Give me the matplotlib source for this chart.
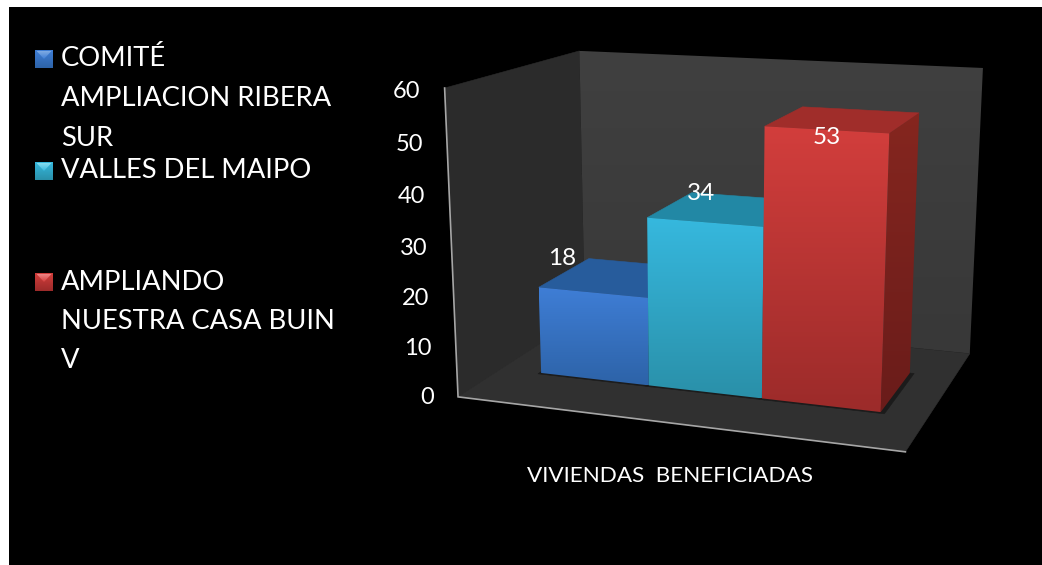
import matplotlib
matplotlib.use('Agg')
import matplotlib.pyplot as plt
import numpy as np
from matplotlib.colors import to_rgb
from matplotlib.patches import Polygon, Rectangle

plt.rcParams['font.family'] = ['Lato', 'DejaVu Sans']

# datos del grafico
categoria = 'VIVIENDAS  BENEFICIADAS'
series = ['COMITÉ\nAMPLIACION RIBERA\nSUR', 'VALLES DEL MAIPO', 'AMPLIANDO\nNUESTRA CASA BUIN\nV']
valores = [18, 34, 53]
ticks_y = [0, 10, 20, 30, 40, 50, 60]
y_max = 60

# colores: frente arriba, frente abajo, tapa, lado arriba, lado abajo, brillo leyenda
colores = [('#3F7ED6', '#2D63A8', '#275C9C', '#1F4A80', '#1F4A80', '#7FABE3'),
           ('#36B8DE', '#2A90A9', '#2288A5', '#1B6C84', '#1B6C84', '#86DDF0'),
           ('#D23E3C', '#9C2B2A', '#A02D2A', '#85261F', '#6A1C1A', '#EE8585')]

# esquinas de la caja 3D (x, profundidad, z) y donde caen en la imagen
cubo = np.array([[0, 0, 0], [1, 0, 0], [1, 1, 0], [0, 1, 0], [0, 0, 1], [1, 1, 1], [0, 1, 1]], float)
imagen = np.array([[458, 394], [905, 455], [970, 350], [585, 318], [445, 88], [983, 69], [579, 50]], float)


def calcular_camara(p3, p2):
    filas = []
    for (x, y, z), (u, v) in zip(p3, p2):
        filas.append([x, y, z, 1, 0, 0, 0, 0, -u*x, -u*y, -u*z, -u])
        filas.append([0, 0, 0, 0, x, y, z, 1, -v*x, -v*y, -v*z, -v])
    return np.linalg.svd(np.array(filas))[2][-1].reshape(3, 4)


camara = calcular_camara(cubo, imagen)


def proy(x, y, valor):
    p = camara @ np.array([x, y, valor / y_max, 1.0])
    return p[0] / p[2], p[1] / p[2]


fig = plt.figure(figsize=(10.42, 5.65), dpi=100, facecolor='white')
ax = fig.add_axes([9 / 1042, 0, 1033 / 1042, 558 / 565], facecolor='black')
ax.axis('off')
ax.add_patch(Rectangle((9, 7), 1033, 558, color='black', zorder=0))


def cara(puntos, color, z=2):
    ax.add_patch(Polygon(puntos, closed=True, facecolor=color, edgecolor=color, linewidth=0.4, zorder=z))


def cara_degradada(puntos, c1, c2, z=3):
    # degradado vertical recortado al poligono de la cara
    pts = np.array(puntos)
    grad = np.linspace(to_rgb(c1), to_rgb(c2), 64).reshape(64, 1, 3)
    img = ax.imshow(grad, extent=(pts[:, 0].min(), pts[:, 0].max(), pts[:, 1].max(), pts[:, 1].min()),
                    aspect='auto', interpolation='bilinear', zorder=z)
    forma = Polygon(pts, closed=True, transform=ax.transData, facecolor='none', edgecolor='none')
    ax.add_patch(forma)
    img.set_clip_path(forma)


# paredes y piso
cara([proy(0, 0, 0), proy(0, 1, 0), proy(0, 1, y_max), proy(0, 0, y_max)], '#2B2B2B', 1)
cara_degradada([proy(0, 1, y_max), proy(1, 1, y_max), proy(1, 1, 0), proy(0, 1, 0)], '#404040', '#383838', 1)
cara([proy(0, 0, 0), proy(1, 0, 0), proy(1, 1, 0), proy(0, 1, 0)], '#303030', 1.5)
ax.plot(*zip(proy(0, 0, y_max), proy(0, 0, 0), proy(1, 0, 0)), color='#A6A6A6', lw=1.2, zorder=2, solid_joinstyle='miter')

# barras
x_ini, ancho = 0.1, 0.266
y0, y1 = 0.31, 0.72
for i, val in enumerate(valores):
    xa, xb = x_ini + ancho * i, x_ini + ancho * (i + 1)
    front, abajo, tapa, lado, lado2, brillo = colores[i]
    # sombra en el piso
    cara([proy(xa - 0.004, y0 - 0.012, 0), proy(xb + 0.01, y0 - 0.012, 0), proy(xb + 0.01, y1, 0), proy(xa - 0.004, y1, 0)], '#1B1B1B', 1.8)
    cara([proy(xa, y0, val), proy(xb, y0, val), proy(xb, y1, val), proy(xa, y1, val)], tapa, 2 + i * 0.1)
    cara_degradada([proy(xb, y0, val), proy(xb, y1, val), proy(xb, y1, 0), proy(xb, y0, 0)], lado, lado2, 2 + i * 0.1)
    cara_degradada([proy(xa, y0, val), proy(xb, y0, val), proy(xb, y0, 0), proy(xa, y0, 0)], front, abajo, 3 + i * 0.1)

# ticks del eje
for t in ticks_y:
    px, py = proy(0, 0, t)
    ax.text(px - 24, py + 0.5 + 2.5 * t / y_max, str(t), color='white', fontsize=17, ha='right', va='center', zorder=6)

# etiquetas de datos
desp = [(-31, -34), (-4, -29), (1, 8)]
for i, val in enumerate(valores):
    px, py = proy(x_ini + ancho * (i + 0.5), y0, val)
    ax.text(px + desp[i][0], py + desp[i][1], str(val), color='white', fontsize=17.5, ha='center', va='center', zorder=6)

ax.text(670, 476, categoria, color='white', fontsize=16.2, ha='center', va='center', zorder=6)

# leyenda
pos_leyenda = [59, 171, 282]
for i, nombre in enumerate(series):
    yc = pos_leyenda[i]
    front, abajo, tapa, lado, lado2, brillo = colores[i]
    for j, linea in enumerate(nombre.split('\n')):
        ax.text(61, yc + j * 39.5, linea, color='white', fontsize=19.7, ha='left', va='center', zorder=6)
    ym = yc
    cara_degradada([(35, ym - 9), (53, ym - 9), (53, ym + 9), (35, ym + 9)], front, abajo, 5)
    cara_degradada([(36.5, ym - 8), (51.5, ym - 8), (44, ym)], brillo, front, 5.5)

ax.set_xlim(9, 1042)
ax.set_ylim(565, 7)
fig.savefig('out.png', dpi=100, facecolor='white')
